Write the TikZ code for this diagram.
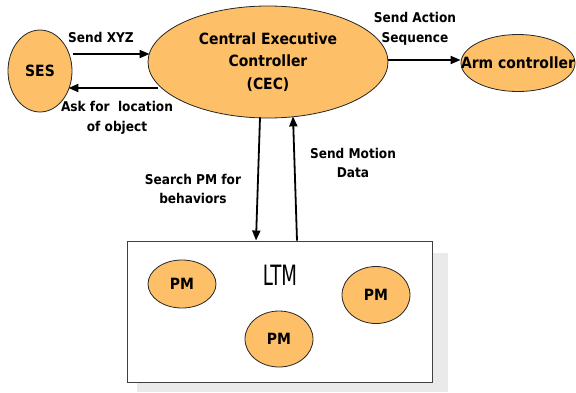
\documentclass[tikz,border=0pt]{standalone}
\usepackage{fontspec}
\setmainfont{DejaVu Sans Condensed}
\newfontfamily\ltmfont{DejaVu Sans Condensed}
\usetikzlibrary{shapes.geometric,arrows.meta}
\definecolor{blobfill}{HTML}{FDC068}
\definecolor{shadowgray}{HTML}{EAEAEA}
\definecolor{boxline}{HTML}{404040}
\tikzset{
  x=1pt, y=-1pt,
  blob/.style={ellipse, draw=black!85, line width=0.8pt, fill=blobfill,
    inner sep=0pt, align=center, font=\bfseries\fontsize{15.5}{22.5}\selectfont},
  blobtext/.style={inner sep=0pt, font=\bfseries\fontsize{15.5}{22.5}\selectfont},
  flow/.style={line width=1.8pt, -{Triangle[length=10pt,width=8pt]}},
  lbl/.style={align=center, font=\bfseries\fontsize{13.5}{19.5}\selectfont}
}
\begin{document}
\begin{tikzpicture}
  \useasboundingbox (0,0) rectangle (576,392);

  % memory box with its drop shadow
  \fill[shadowgray] (137,253) rectangle (448,392);
  \node[draw=boxline, line width=0.9pt, fill=white, minimum width=305pt,
        minimum height=141pt, inner sep=0pt] (ltm) at (279.5,311.5) {};
  \node[font=\ltmfont\fontsize{28}{28}\selectfont, xscale=0.72] (ltmtxt) at (280,275) {LTM};

  % processes
  \node[blob, minimum width=64pt, minimum height=82pt] (ses) at (40,71) {SES};
  \node[blob, minimum width=240pt, minimum height=112pt] (cec) at (268,62)
    {Central Executive\\Controller\\(CEC)};
  % the label is wider than this ellipse, so it is set on top of it
  \node[blob, minimum width=114pt, minimum height=57pt] (arm) at (518,63) {};
  \node[blobtext] (armtxt) at (arm.center) {Arm controller};

  % procedural memories
  \node[blob, minimum width=68pt, minimum height=48pt] (pm1) at (182,284) {PM};
  \node[blob, minimum width=68pt, minimum height=56pt] (pm2) at (279,339) {PM};
  \node[blob, minimum width=68pt, minimum height=57pt] (pm3) at (376,295) {PM};

  % messages
  \draw[flow] ([xshift=1pt,yshift=17pt]ses.east) -- ([xshift=2pt,yshift=8pt]cec.west);
  \node[lbl] (l1) at (101,37) {Send XYZ};

  \draw[flow] ([xshift=10pt,yshift=-26pt]cec.west) -- ([xshift=-4pt,yshift=-17pt]ses.east);
  \node[lbl] (l2) at (117,118) {Ask for\ \ location\\of object};

  \draw[flow] ([yshift=2pt]cec.east) -- ([yshift=2pt]cec.east -| arm.west);
  \node[lbl] (l3) at (415,29) {Send Action\\Sequence};

  \draw[flow] ([xshift=-8pt,yshift=1pt]cec.south) -- ([xshift=-23.5pt]ltm.north);
  \node[lbl] (l4) at (193,189) {Search PM for\\behaviors};

  \draw[flow] ([xshift=17.5pt]ltm.north) -- ([xshift=25pt,yshift=2pt]cec.south);
  \node[lbl] (l5) at (353,163) {Send Motion\\Data};
\end{tikzpicture}
\end{document}
